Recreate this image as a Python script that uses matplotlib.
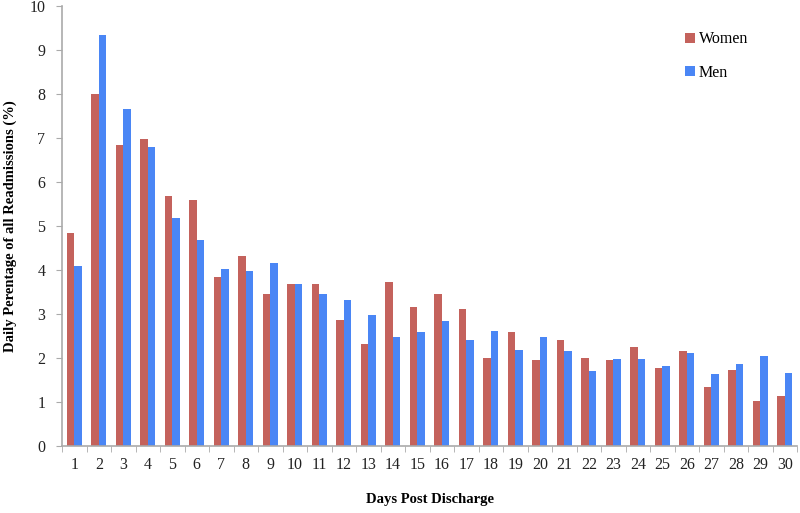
import matplotlib
matplotlib.use("Agg")
import matplotlib.pyplot as plt
import numpy as np

days = list(range(1, 31))
women = [4.83, 8.0, 6.85, 6.97, 5.68, 5.58, 3.85, 4.32, 3.45, 3.68,
         3.68, 2.87, 2.31, 3.73, 3.17, 3.45, 3.12, 2.0, 2.6, 1.95,
         2.42, 2.0, 1.95, 2.26, 1.78, 2.15, 1.34, 1.73, 1.03, 1.14]
men = [4.1, 9.35, 7.67, 6.8, 5.18, 4.68, 4.02, 3.98, 4.15, 3.68,
       3.45, 3.31, 2.98, 2.48, 2.6, 2.84, 2.42, 2.61, 2.18, 2.48,
       2.15, 1.70, 1.98, 1.98, 1.81, 2.12, 1.64, 1.87, 2.04, 1.67]

plt.rcParams['font.family'] = ['Liberation Serif', 'DejaVu Serif']

fig = plt.figure(figsize=(8, 5.13), dpi=100)
ax = fig.add_axes([0.0775, 0.1306, 0.9188, 0.8577])

x = np.array(days)
w = 0.31
ax.bar(x - w / 2, women, width=w, color='#C4625C', label='Women')
ax.bar(x + w / 2, men, width=w, color='#4A86F5', label='Men')

ax.set_xlim(0.5, 30.5)
ax.set_ylim(0, 10)
ax.set_yticks(range(0, 11))
ax.set_xticks(days)
ax.set_xticks(np.arange(0.5, 31, 1), minor=True)
ax.tick_params(axis='x', which='major', length=0, labelsize=11.5, pad=8, labelcolor='#222222')
ax.tick_params(axis='x', which='minor', length=4, color='#AAAAAA')
ax.tick_params(axis='y', length=4, color='#AAAAAA', labelsize=11.5, pad=8, labelcolor='#222222')

for s in ['top', 'right']:
    ax.spines[s].set_visible(False)
for s in ['left', 'bottom']:
    ax.spines[s].set_color('#AAAAAA')
    ax.spines[s].set_linewidth(1.2)

ax.set_xlabel('Days Post Discharge', fontsize=10.5, fontweight='bold', labelpad=14)
ax.set_ylabel('Daily Perentage of all Readmissions (%)', fontsize=10.5, fontweight='bold', labelpad=9)

leg = ax.legend(loc='upper left', bbox_to_anchor=(0.828, 0.975), frameon=False,
                fontsize=11.5, handlelength=0.6, handleheight=0.6, handletextpad=0.25,
                labelspacing=1.1)

fig.savefig('out.png', dpi=100)
